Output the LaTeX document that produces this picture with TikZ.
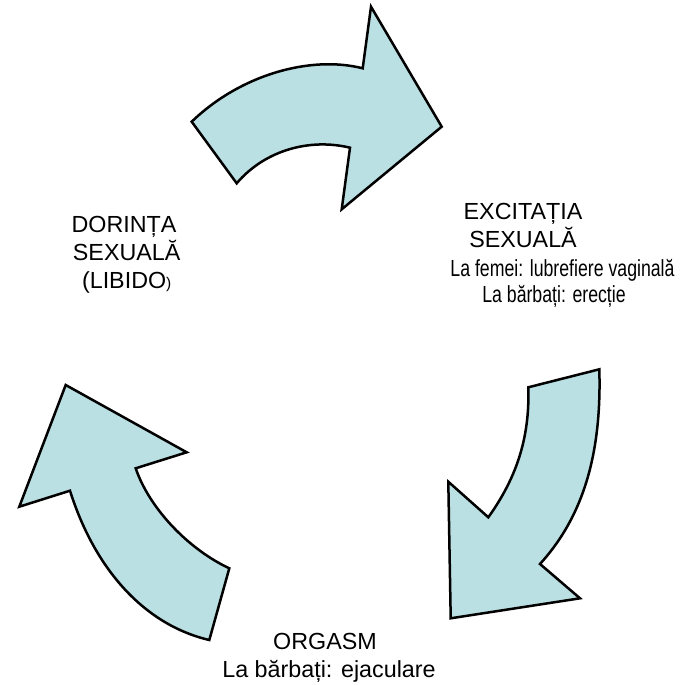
\documentclass[tikz,border=0pt]{standalone}
\usepackage{fontspec}
\setmainfont{Liberation Sans}
\newfontfamily\narrowsans[FakeStretch=0.76]{Liberation Sans}
\usepackage{xcolor}
\definecolor{arrowfill}{HTML}{BBE0E3}

\begin{document}
\begin{tikzpicture}[x=1pt,y=-1pt,
  cyclearrow/.style={fill=arrowfill,draw=black,line width=2.5pt,line join=miter},
  lbl/.style={anchor=base,inner sep=0pt,font=\fontsize{23.3}{28}\selectfont},
  sublbl/.style={lbl,font=\narrowsans\fontsize{23.3}{28}\selectfont}]
\useasboundingbox (0,0) rectangle (692,684);
\draw[cyclearrow] (191.7,121.7) .. controls (240,75) and (310,55) .. (362.7,68.3)
  -- (371,6.7) -- (441.7,126.7) -- (341.7,209.3) -- (350,147.7)
  .. controls (310,138) and (265,150) .. (236.7,183.3) -- cycle;
\draw[cyclearrow] (599.3,369.3) -- (528.3,387.3)
  .. controls (530,440) and (515,480) .. (488.3,517.3)
  -- (448.3,481.7) -- (450.7,618.3) -- (580,598.3) -- (540,564)
  .. controls (580,520) and (602,460) .. cycle;
\draw[cyclearrow] (65.7,385) -- (186.7,452.3) -- (135.7,468.3)
  .. controls (150,510) and (190,550) .. (229.3,568.3) -- (209.3,640)
  .. controls (145,625) and (95,570) .. (70,490.7) -- (19.3,506.7) -- cycle;
\node[lbl] (dor1) at (124,232.5) {DORINȚA};
\node[lbl] (dor2) at (126.7,261) {SEXUALĂ};
\node[lbl] (dor3) at (126.7,288.5) {(LIBIDO{\fontsize{15.5}{18}\selectfont )}};
\node[lbl] (exc1) at (523,220) {EXCITAȚIA};
\node[lbl] (exc2) at (523,247.5) {SEXUALĂ};
\node[sublbl] (exc3) at (562.5,276.5) {La femei: lubrefiere vaginală};
\node[sublbl] (exc4) at (554,302) {La bărbați: erecție};
\node[lbl] (org1) at (325,649) {ORGASM};
\node[lbl] (org2) at (329,677) {La bărbați: ejaculare};
\end{tikzpicture}
\end{document}
